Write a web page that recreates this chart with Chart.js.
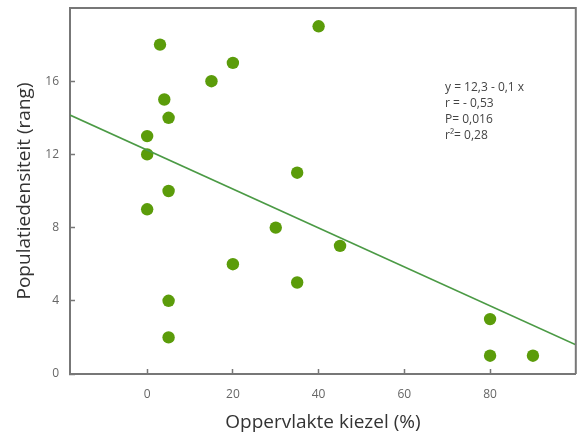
<!DOCTYPE html>
<html>
<head>
<meta charset="utf-8">
<script src="https://cdn.jsdelivr.net/npm/chart.js@4/dist/chart.umd.min.js"></script>
<style>
  html, body { margin: 0; padding: 0; background: #fff; }
  #wrap { width: 582px; height: 435px; }
</style>
</head>
<body>
<div id="wrap"><canvas id="chart"></canvas></div>
<script>
// surface of gravel (%) vs population density rank
const kiezel = [3, 40, 20, 15, 4, 5, 0, 0, 35, 5, 0, 30, 45, 20, 35, 5, 5, 80, 80, 90];
const dichtheid = [18, 19, 17, 16, 15, 14, 13, 12, 11, 10, 9, 8, 7, 6, 5, 4, 2, 3, 1, 1];

// regression line end points
const lijnX = [-18, 100];
const lijnY = [14.15, 1.6];

const xTicks = [0, 20, 40, 60, 80];
const yTicks = [0, 4, 8, 12, 16];
const statsTekst = ['y = 12,3 - 0,1 x', 'r = - 0,53', 'P= 0,016', 'r\u00B2= 0,28'];

const AXIS = '#777';
const TICK_FONT = { family: 'Open Sans', size: 12 };
const TITLE_FONT = { family: 'Open Sans', size: 19 };

const framePlugin = {
  id: 'frame',
  afterDatasetsDraw(chart) {
    const ctx = chart.ctx;
    const a = chart.chartArea;
    ctx.save();
    ctx.strokeStyle = AXIS;
    ctx.lineWidth = 2;
    ctx.setLineDash([]);
    ctx.beginPath();
    ctx.moveTo(a.left, a.top);
    ctx.lineTo(a.right, a.top);
    ctx.lineTo(a.right, a.bottom);
    ctx.stroke();
    // stats text
    ctx.fillStyle = '#444';
    ctx.font = '12px "Open Sans"';
    ctx.textBaseline = 'alphabetic';
    ctx.textAlign = 'left';
    statsTekst.forEach((t, i) => ctx.fillText(t, a.left + 375, a.top + 83 + i * 16));
    ctx.restore();
  },
};

new Chart(document.getElementById('chart'), {
  type: 'scatter',
  data: {
    datasets: [
      {
        label: 'lijn',
        type: 'line',
        data: lijnX.map((x, i) => ({ x, y: lijnY[i] })),
        borderColor: '#4b9a45',
        borderWidth: 1.5,
        pointRadius: 0,
        fill: false,
      },
      {
        label: 'punten',
        data: kiezel.map((x, i) => ({ x, y: dichtheid[i] })),
        backgroundColor: '#5b9c0a',
        borderWidth: 0,
        pointRadius: 6.2,
        pointHoverRadius: 6.2,
      },
    ],
  },
  options: {
    responsive: true,
    maintainAspectRatio: false,
    animation: false,
    layout: { padding: { top: 8, right: 5, left: 0, bottom: 0 } },
    plugins: { legend: { display: false }, tooltip: { enabled: false } },
    scales: {
      x: {
        type: 'linear',
        min: -18,
        max: 100,
        afterBuildTicks: (s) => { s.ticks = xTicks.map((v) => ({ value: v })); },
        afterFit: (s) => { s.height = 61; s.paddingLeft = 0; s.paddingRight = 0; },
        ticks: { color: '#666', font: TICK_FONT, padding: 18 },
        grid: { drawOnChartArea: false, tickLength: -5, tickColor: AXIS, tickWidth: 1.5 },
        border: { color: AXIS, width: 2 },
        title: { display: true, text: 'Oppervlakte kiezel (%)', color: '#333', font: TITLE_FONT, padding: { bottom: 1 } },
      },
      y: {
        type: 'linear',
        min: 0,
        max: 20,
        afterBuildTicks: (s) => { s.ticks = yTicks.map((v) => ({ value: v })); },
        afterFit: (s) => { s.width = 70; s.paddingTop = 0; s.paddingBottom = 0; },
        ticks: { color: '#666', font: TICK_FONT, padding: 16 },
        grid: { drawOnChartArea: false, tickLength: -5, tickColor: AXIS, tickWidth: 1.5 },
        border: { color: AXIS, width: 2 },
        title: { display: true, text: 'Populatiedensiteit (rang)', color: '#333', font: TITLE_FONT, padding: { top: 13 } },
      },
    },
  },
  plugins: [framePlugin],
});
</script>
</body>
</html>
